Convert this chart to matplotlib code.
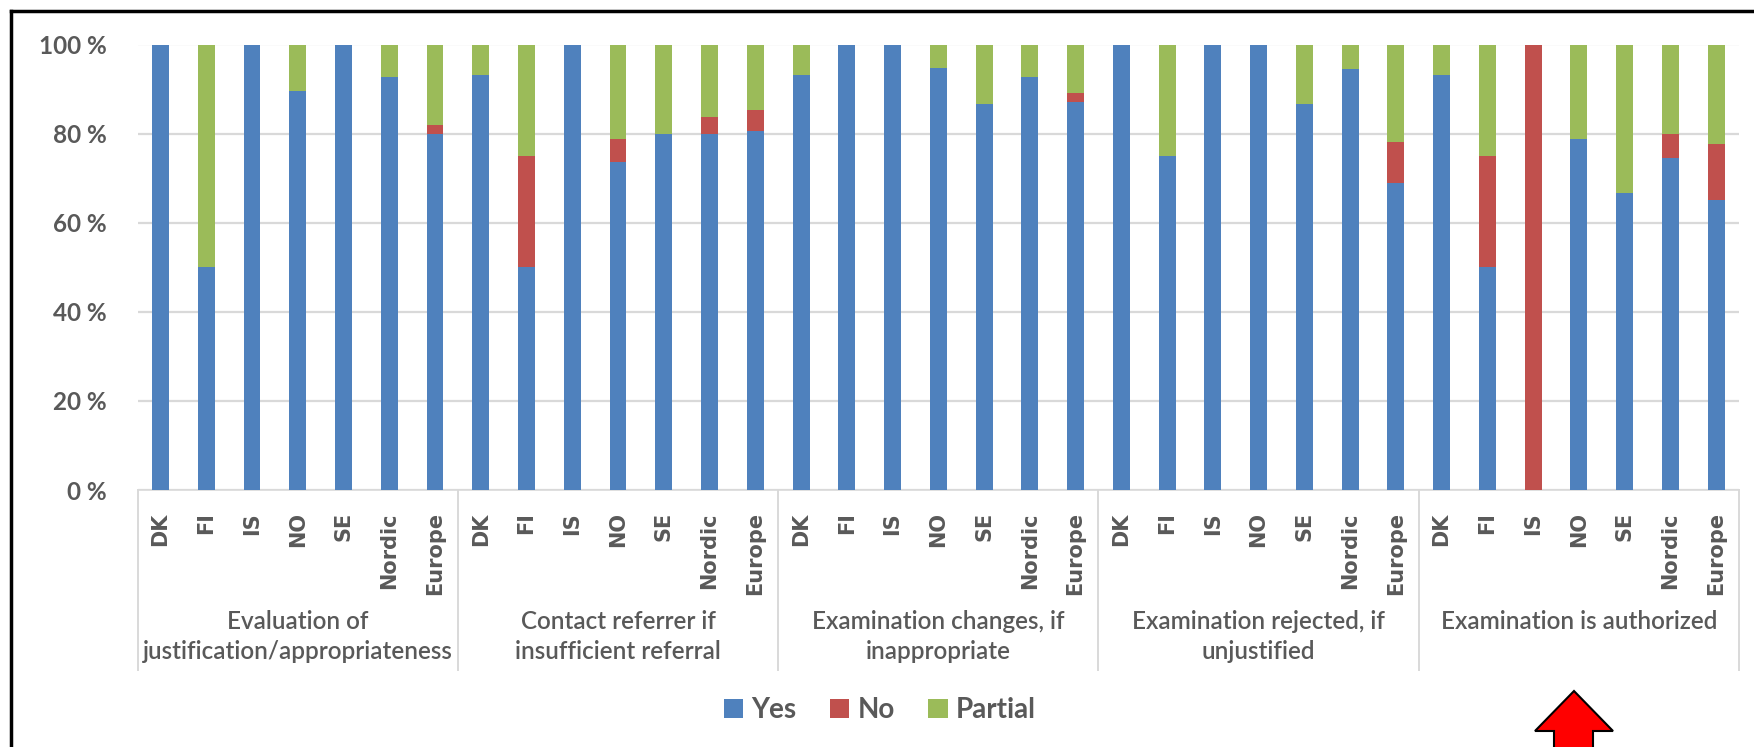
import numpy as np
import matplotlib
matplotlib.use("Agg")
import matplotlib.pyplot as plt
import matplotlib.transforms as mtransforms
from matplotlib.patches import Polygon
from matplotlib.lines import Line2D

# data (percent)
countries = ["DK", "FI", "IS", "NO", "SE", "Nordic", "Europe"]
groups = ["Evaluation of\njustification/appropriateness",
          "Contact referrer if\ninsufficient referral",
          "Examination changes, if\ninappropriate",
          "Examination rejected, if\nunjustified",
          "Examination is authorized"]
yes = np.array([100, 50, 100, 89.5, 100, 92.6, 80.0,
                93.2, 50, 100, 73.6, 80.0, 80.0, 80.6,
                93.2, 100, 100, 94.7, 86.6, 92.6, 87.1,
                100, 75, 100, 100, 86.6, 94.4, 69.0,
                93.2, 50, 0, 78.8, 66.7, 74.5, 65.0])
no = np.array([0, 0, 0, 0, 0, 0, 2.0,
               0, 25, 0, 5.2, 0, 3.8, 4.6,
               0, 0, 0, 0, 0, 0, 2.1,
               0, 0, 0, 0, 0, 0, 9.2,
               0, 25, 100, 0, 0, 5.5, 12.6])
partial = 100 - yes - no

blue, red, green = "#4F81BD", "#C0504D", "#9BBB59"
txt = "#595959"
grid = "#D9D9D9"

W, H = 1754, 747
fig = plt.figure(figsize=(W / 100, H / 100), dpi=100)
ax = fig.add_axes([137.6 / W, 1 - 490 / H, (1739 - 137.6) / W, (490 - 44.5) / H])

x = np.arange(len(yes))
bw = 0.37
ax.bar(x, yes, bw, color=blue, linewidth=0, label="Yes", zorder=3)
ax.bar(x, no, bw, bottom=yes, color=red, linewidth=0, label="No", zorder=3)
ax.bar(x, partial, bw, bottom=yes + no, color=green, linewidth=0, label="Partial", zorder=3)

ax.set_xlim(-0.5, len(yes) - 0.5)
ax.set_ylim(0, 100)
ax.set_yticks(range(0, 101, 20))
ax.set_yticklabels(["%d %%" % v for v in range(0, 101, 20)],
                   fontfamily="Lato", fontweight="bold", fontsize=17.5, color=txt)
ax.tick_params(axis="y", length=0, pad=22)
ax.yaxis.grid(True, color=grid, linewidth=1.6, zorder=0)
for s in ["top", "right", "left"]:
    ax.spines[s].set_visible(False)
ax.spines["bottom"].set_color(grid)
ax.spines["bottom"].set_linewidth(1.2)

ax.set_xticks(x)
ax.set_xticklabels(countries * len(groups), rotation=90, va="top", ha="center",
                   fontfamily="DejaVu Sans", fontweight="bold", fontsize=15, color=txt)
ax.tick_params(axis="x", length=0, pad=16)

# group separators and labels
bt = mtransforms.blended_transform_factory(ax.transData, ax.transAxes)
sep_bottom = (490 - 670) / (490 - 44.5)
n = len(countries)
for g in range(len(groups) + 1):
    xs = g * n - 0.5
    ax.add_line(Line2D([xs, xs], [0, sep_bottom], color=grid, linewidth=1.4,
                       transform=bt, clip_on=False))
ft = mtransforms.blended_transform_factory(ax.transData, fig.transFigure)
for g, lab in enumerate(groups):
    ax.text(g * n + (n - 1) / 2, 1 - 610 / H, lab, transform=ft, ha="center", va="top",
            fontfamily="Lato", fontweight="semibold", fontsize=17.5, color=txt,
            linespacing=1.35)

fig.legend(loc="center", bbox_to_anchor=(880 / W, 1 - 710 / H), ncol=3, frameon=False,
           prop={"family": "Lato", "weight": "bold", "size": 20}, labelcolor=txt,
           handlelength=0.7, handleheight=0.7, handletextpad=0.3, columnspacing=1.2)

# frame (only top and left edges fall inside the picture)
fig.add_artist(Line2D([11 / W, 11 / W], [1 - 11 / H, 0], color="black", linewidth=2.5,
                      transform=fig.transFigure))
fig.add_artist(Line2D([11 / W, 1], [1 - 11 / H, 1 - 11 / H], color="black", linewidth=2.5,
                      transform=fig.transFigure))

# red arrow
pts = [(1574, 691), (1613, 731), (1593, 731), (1593, 760), (1554, 760), (1554, 731), (1535, 731)]
arrow = Polygon([(px / W, 1 - py / H) for px, py in pts], closed=True, facecolor="red",
                edgecolor="black", linewidth=1.5, transform=fig.transFigure, clip_on=False)
fig.add_artist(arrow)

fig.savefig("out.png", dpi=100)
